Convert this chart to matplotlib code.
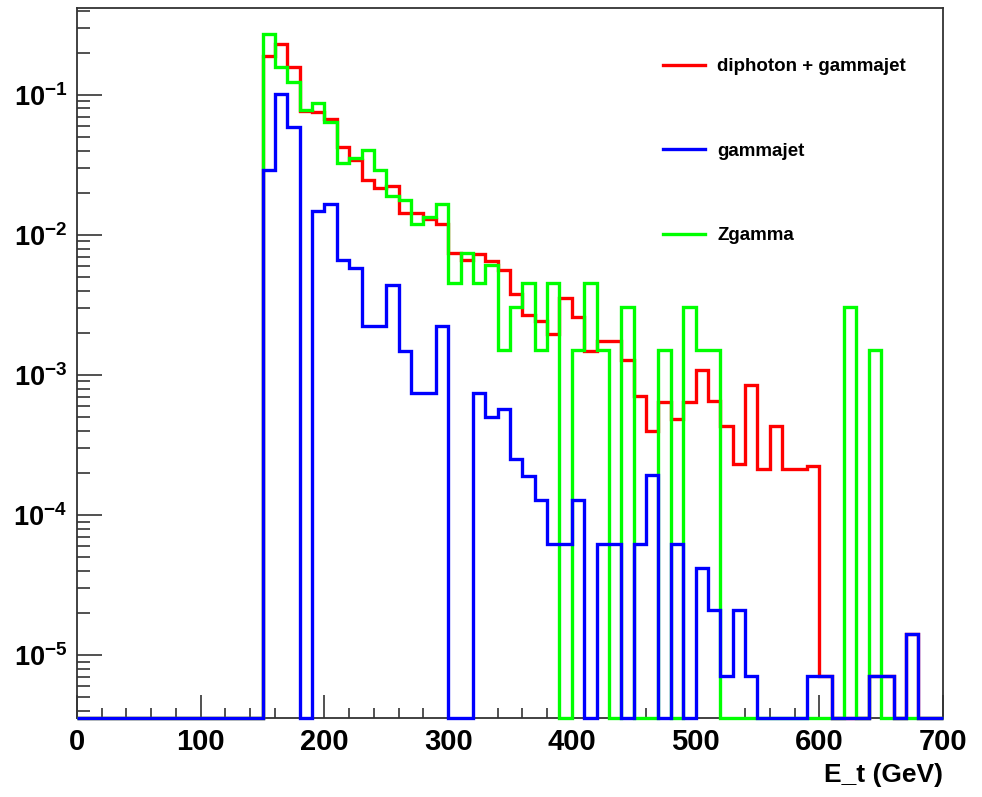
import numpy as np
import matplotlib
matplotlib.use("Agg")
import matplotlib.pyplot as plt
from matplotlib import font_manager as fm
from matplotlib.lines import Line2D
from matplotlib.ticker import FixedLocator, FixedFormatter, MultipleLocator, NullFormatter

# bins of 10 GeV, 0 .. 700
bin_edges = np.arange(0, 710, 10)

# diphoton + gammajet (bins 0..69)
diphoton_gammajet = [0] * 15 + [
    0.190, 0.229, 0.158, 0.0767, 0.0750, 0.0678, 0.0425, 0.0341, 0.0248, 0.0218,
    0.0223, 0.0144, 0.0144, 0.0129, 0.0119, 0.00749, 0.00659, 0.00728, 0.00650, 0.00566,
    0.00376, 0.00267, 0.00242, 0.00195, 0.00355, 0.00260, 0.00149, 0.00174, 0.00174, 0.00128,
    0.000706, 0.000399, 0.000637, 0.000484, 0.000637, 0.00109, 0.000654, 0.000433, 0.000230, 0.000845,
    0.000213, 0.000433, 0.000213, 0.000213, 0.000223, 7.1e-6, 0, 0, 0, 7.1e-6,
    7.1e-6, 0, 1.41e-5, 0, 0]

gammajet = [0] * 15 + [
    0.0293, 0.102, 0.0585, 0, 0.0148, 0.0165, 0.00659, 0.00581, 0.00223, 0.00223,
    0.00438, 0.00148, 0.00075, 0.00075, 0.00224, 0, 0, 0.00075, 0.000502, 0.000570,
    0.000251, 0.000190, 0.000129, 6.2e-5, 6.2e-5, 0.000129, 0, 6.2e-5, 6.2e-5, 0,
    6.2e-5, 0.000193, 0, 6.2e-5, 0, 4.2e-5, 2.09e-5, 7.1e-6, 2.09e-5, 7.1e-6,
    0, 0, 0, 0, 7.1e-6, 7.1e-6, 0, 0, 0, 7.1e-6,
    7.1e-6, 0, 1.41e-5, 0, 0]

zgamma = [0] * 15 + [
    0.274, 0.157, 0.124, 0.0785, 0.0875, 0.0641, 0.0324, 0.0357, 0.0402, 0.0293,
    0.0190, 0.0177, 0.0119, 0.0135, 0.0165, 0.00454, 0.00749, 0.00454, 0.00606, 0.00152,
    0.00304, 0.00454, 0.00152, 0.00454, 0, 0.00152, 0.00454, 0.00152, 0, 0.00304,
    0, 0, 0.00152, 0, 0.00304, 0.00152, 0.00152, 0, 0, 0,
    0, 0, 0, 0, 0, 0, 0, 0.00304, 0, 0.00152,
    0, 0, 0, 0, 0]

series = [
    ("diphoton + gammajet", diphoton_gammajet, "#ff0000"),
    ("gammajet", gammajet, "#0000ff"),
    ("Zgamma", zgamma, "#00ff00"),
]

y_ticks = [1e-5, 1e-4, 1e-3, 1e-2, 1e-1]
y_ticklabels = [r"$\mathbf{10^{-5}}$", r"$\mathbf{10^{-4}}$", r"$\mathbf{10^{-3}}$",
                r"$\mathbf{10^{-2}}$", r"$\mathbf{10^{-1}}$"]
x_ticks = [0, 100, 200, 300, 400, 500, 600, 700]

ymin, ymax = 3.56e-6, 0.417

names = {f.name for f in fm.fontManager.ttflist}
fam = "Liberation Sans Narrow" if "Liberation Sans Narrow" in names else "Liberation Sans"
plt.rcParams["font.family"] = [fam, "DejaVu Sans"]
plt.rcParams["font.weight"] = "bold"
plt.rcParams["mathtext.fontset"] = "custom"
plt.rcParams["mathtext.bf"] = fam + ":bold"
plt.rcParams["mathtext.rm"] = fam + ":bold"

W, H = 982, 797
fig = plt.figure(figsize=(W / 100, H / 100), dpi=100)
ax = fig.add_axes([77 / W, (H - 718) / H, (943 - 77) / W, (718 - 8) / H])

# draw order: red, green, blue (blue on top)
for name, vals, col in [series[0], series[2], series[1]]:
    v = np.asarray(vals, dtype=float)
    v = np.where(v > 0, v, ymin)  # empty bins sit on the axis, like ROOT
    ax.stairs(v, bin_edges, baseline=None, color=col, lw=2.4, zorder=3, clip_on=False)

ax.set_yscale("log")
ax.set_xlim(0, 700)
ax.set_ylim(ymin, ymax)

ax.yaxis.set_major_locator(FixedLocator(y_ticks))
ax.yaxis.set_major_formatter(FixedFormatter(y_ticklabels))
minor = [m * 10.0 ** e for e in range(-6, 0) for m in range(2, 10)]
ax.yaxis.set_minor_locator(FixedLocator(minor))
ax.yaxis.set_minor_formatter(NullFormatter())
ax.xaxis.set_major_locator(FixedLocator(x_ticks))
ax.xaxis.set_minor_locator(MultipleLocator(20))

ax.tick_params(axis="y", which="major", direction="in", length=18, width=1.1,
               labelsize=19.5, pad=7, color="#222222")
ax.tick_params(axis="y", which="minor", direction="in", length=9, width=1.1, color="#222222")
ax.tick_params(axis="x", which="major", direction="in", length=16.5, width=1.1,
               labelsize=21, pad=7, color="#222222")
ax.tick_params(axis="x", which="minor", direction="in", length=7.5, width=1.1, color="#222222")
for s in ax.spines.values():
    s.set_linewidth(1.3)
    s.set_color("#333333")

ax.set_xlabel("E_t (GeV)", fontsize=19, fontweight="bold")
ax.xaxis.set_label_coords(1.0, -0.064)
ax.xaxis.label.set_horizontalalignment("right")

handles = [Line2D([], [], color=c, lw=2.4) for _, _, c in series]
fig.legend(handles, [n for n, _, _ in series], loc="upper left",
           bbox_to_anchor=(663 / W, 1 - 58 / H), frameon=False,
           handlelength=2.24, handletextpad=0.64, labelspacing=3.6,
           borderpad=0, borderaxespad=0, prop={"weight": "bold", "size": 13.5})

fig.savefig("out.png", dpi=100, facecolor="white")
